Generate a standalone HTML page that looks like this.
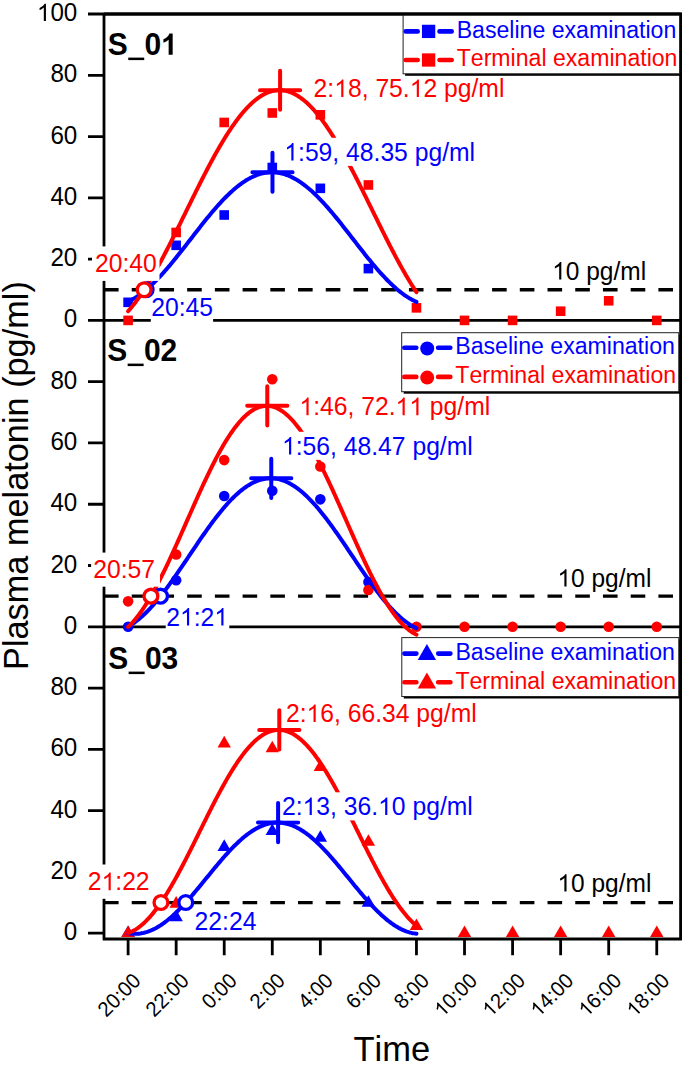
<!DOCTYPE html><html><head><meta charset="utf-8"><style>html,body{margin:0;padding:0;background:#fff;overflow:hidden}svg{display:block}text{font-family:"Liberation Sans",sans-serif;font-kerning:none;font-feature-settings:"kern" 0;white-space:pre}</style></head><body>
<svg width="685" height="1066" viewBox="0 0 685 1066" font-family="Liberation Sans">
<rect width="685" height="1066" fill="#fff"/>
<path d="M104.0,14.0 V939.0 M680.6,12.7 V940.3 M88,14.0 H680.6 M102.7,939.0 H681.9 M88,320.40 H680.6 M88,259.12 H104.0 M88,197.84 H104.0 M88,136.56 H104.0 M88,75.28 H104.0 M88,626.80 H680.6 M88,565.52 H104.0 M88,504.24 H104.0 M88,442.96 H104.0 M88,381.68 H104.0 M88,933.20 H104.0 M88,871.92 H104.0 M88,810.64 H104.0 M88,749.36 H104.0 M88,688.08 H104.0 M128.10,939.0 V955.2 M176.16,939.0 V955.2 M224.22,939.0 V955.2 M272.28,939.0 V955.2 M320.34,939.0 V955.2 M368.40,939.0 V955.2 M416.46,939.0 V955.2 M464.52,939.0 V955.2 M512.58,939.0 V955.2 M560.64,939.0 V955.2 M608.70,939.0 V955.2 M656.76,939.0 V955.2" stroke="#000" stroke-width="2.8" fill="none"/>
<line x1="104.0" y1="289.76" x2="679.1" y2="289.76" stroke="#000" stroke-width="3.3" stroke-dasharray="14.6 13.12"/>
<rect x="123.30" y="297.52" width="9.60" height="9.60" fill="#0000ff"/>
<rect x="171.36" y="240.53" width="9.60" height="9.60" fill="#0000ff"/>
<rect x="219.42" y="210.20" width="9.60" height="9.60" fill="#0000ff"/>
<rect x="267.48" y="162.71" width="9.60" height="9.60" fill="#0000ff"/>
<rect x="315.54" y="183.54" width="9.60" height="9.60" fill="#0000ff"/>
<rect x="363.60" y="263.82" width="9.60" height="9.60" fill="#0000ff"/>
<rect x="123.30" y="315.60" width="9.60" height="9.60" fill="#ff0000"/>
<rect x="171.36" y="227.66" width="9.60" height="9.60" fill="#ff0000"/>
<rect x="219.42" y="117.67" width="9.60" height="9.60" fill="#ff0000"/>
<rect x="267.48" y="108.17" width="9.60" height="9.60" fill="#ff0000"/>
<rect x="315.54" y="110.01" width="9.60" height="9.60" fill="#ff0000"/>
<rect x="363.60" y="180.17" width="9.60" height="9.60" fill="#ff0000"/>
<rect x="411.66" y="303.04" width="9.60" height="9.60" fill="#ff0000"/>
<rect x="459.72" y="315.60" width="9.60" height="9.60" fill="#ff0000"/>
<rect x="507.78" y="315.60" width="9.60" height="9.60" fill="#ff0000"/>
<rect x="555.84" y="306.41" width="9.60" height="9.60" fill="#ff0000"/>
<rect x="603.90" y="295.99" width="9.60" height="9.60" fill="#ff0000"/>
<rect x="651.96" y="315.60" width="9.60" height="9.60" fill="#ff0000"/>
<path d="M128.10,301.51 L129.30,300.95 L130.50,300.35 L131.70,299.73 L132.91,299.07 L134.11,298.38 L135.31,297.65 L136.51,296.90 L137.71,296.11 L138.91,295.29 L140.12,294.44 L141.32,293.56 L142.52,292.66 L143.72,291.72 L144.92,290.75 L146.12,289.76 L147.32,288.74 L148.53,287.69 L149.73,286.62 L150.93,285.52 L152.13,284.39 L153.33,283.24 L154.53,282.07 L155.73,280.87 L156.94,279.65 L158.14,278.41 L159.34,277.14 L160.54,275.86 L161.74,274.56 L162.94,273.23 L164.14,271.89 L165.35,270.53 L166.55,269.15 L167.75,267.76 L168.95,266.35 L170.15,264.93 L171.35,263.49 L172.56,262.04 L173.76,260.58 L174.96,259.10 L176.16,257.62 L177.36,256.12 L178.56,254.61 L179.76,253.10 L180.97,251.58 L182.17,250.05 L183.37,248.52 L184.57,246.98 L185.77,245.43 L186.97,243.89 L188.18,242.34 L189.38,240.79 L190.58,239.23 L191.78,237.68 L192.98,236.13 L194.18,234.58 L195.38,233.03 L196.59,231.48 L197.79,229.94 L198.99,228.41 L200.19,226.88 L201.39,225.35 L202.59,223.84 L203.79,222.33 L205.00,220.83 L206.20,219.34 L207.40,217.86 L208.60,216.40 L209.80,214.94 L211.00,213.50 L212.20,212.07 L213.41,210.66 L214.61,209.26 L215.81,207.88 L217.01,206.51 L218.21,205.16 L219.41,203.83 L220.62,202.52 L221.82,201.23 L223.02,199.96 L224.22,198.71 L225.42,197.49 L226.62,196.28 L227.82,195.10 L229.03,193.94 L230.23,192.81 L231.43,191.70 L232.63,190.62 L233.83,189.56 L235.03,188.53 L236.24,187.53 L237.44,186.55 L238.64,185.61 L239.84,184.69 L241.04,183.80 L242.24,182.94 L243.44,182.12 L244.65,181.32 L245.85,180.55 L247.05,179.82 L248.25,179.12 L249.45,178.45 L250.65,177.81 L251.85,177.21 L253.06,176.64 L254.26,176.10 L255.46,175.60 L256.66,175.13 L257.86,174.70 L259.06,174.30 L260.26,173.93 L261.47,173.61 L262.67,173.31 L263.87,173.06 L265.07,172.83 L266.27,172.65 L267.47,172.50 L268.68,172.38 L269.88,172.31 L271.08,172.26 L272.28,172.26 L273.48,172.29 L274.68,172.35 L275.88,172.46 L277.09,172.60 L278.29,172.77 L279.49,172.98 L280.69,173.23 L281.89,173.51 L283.09,173.83 L284.29,174.18 L285.50,174.57 L286.70,174.99 L287.90,175.45 L289.10,175.94 L290.30,176.46 L291.50,177.02 L292.71,177.61 L293.91,178.24 L295.11,178.90 L296.31,179.59 L297.51,180.32 L298.71,181.07 L299.91,181.86 L301.12,182.68 L302.32,183.53 L303.52,184.40 L304.72,185.31 L305.92,186.25 L307.12,187.21 L308.33,188.21 L309.53,189.23 L310.73,190.28 L311.93,191.35 L313.13,192.45 L314.33,193.58 L315.53,194.73 L316.74,195.90 L317.94,197.10 L319.14,198.32 L320.34,199.56 L321.54,200.82 L322.74,202.11 L323.94,203.41 L325.15,204.74 L326.35,206.08 L327.55,207.44 L328.75,208.81 L329.95,210.21 L331.15,211.62 L332.36,213.04 L333.56,214.48 L334.76,215.93 L335.96,217.39 L337.16,218.87 L338.36,220.35 L339.56,221.85 L340.77,223.35 L341.97,224.87 L343.17,226.39 L344.37,227.92 L345.57,229.45 L346.77,230.99 L347.97,232.53 L349.18,234.08 L350.38,235.63 L351.58,237.18 L352.78,238.74 L353.98,240.29 L355.18,241.84 L356.38,243.39 L357.59,244.94 L358.79,246.48 L359.99,248.02 L361.19,249.56 L362.39,251.09 L363.59,252.61 L364.80,254.13 L366.00,255.64 L367.20,257.14 L368.40,258.63 L369.60,260.11 L370.80,261.57 L372.00,263.03 L373.21,264.47 L374.41,265.90 L375.61,267.31 L376.81,268.71 L378.01,270.09 L379.21,271.46 L380.41,272.80 L381.62,274.13 L382.82,275.44 L384.02,276.73 L385.22,278.00 L386.42,279.25 L387.62,280.48 L388.83,281.69 L390.03,282.87 L391.23,284.03 L392.43,285.16 L393.63,286.27 L394.83,287.35 L396.03,288.41 L397.24,289.44 L398.44,290.44 L399.64,291.41 L400.84,292.36 L402.04,293.28 L403.24,294.17 L404.45,295.02 L405.65,295.85 L406.85,296.65 L408.05,297.41 L409.25,298.15 L410.45,298.85 L411.65,299.52 L412.86,300.16 L414.06,300.76 L415.26,301.33 L416.46,301.87" fill="none" stroke="#0000ff" stroke-width="4" stroke-linecap="round" stroke-linejoin="round"/>
<path d="M128.10,311.28 L129.30,309.90 L130.50,308.48 L131.70,307.03 L132.91,305.53 L134.11,303.99 L135.31,302.42 L136.51,300.81 L137.71,299.16 L138.91,297.47 L140.12,295.75 L141.32,294.00 L142.52,292.21 L143.72,290.39 L144.92,288.53 L146.12,286.64 L147.32,284.73 L148.53,282.78 L149.73,280.80 L150.93,278.79 L152.13,276.76 L153.33,274.70 L154.53,272.61 L155.73,270.49 L156.94,268.36 L158.14,266.19 L159.34,264.01 L160.54,261.80 L161.74,259.58 L162.94,257.33 L164.14,255.06 L165.35,252.78 L166.55,250.48 L167.75,248.16 L168.95,245.83 L170.15,243.48 L171.35,241.12 L172.56,238.75 L173.76,236.36 L174.96,233.97 L176.16,231.56 L177.36,229.15 L178.56,226.73 L179.76,224.30 L180.97,221.87 L182.17,219.43 L183.37,216.99 L184.57,214.55 L185.77,212.10 L186.97,209.66 L188.18,207.21 L189.38,204.77 L190.58,202.33 L191.78,199.89 L192.98,197.46 L194.18,195.03 L195.38,192.61 L196.59,190.20 L197.79,187.79 L198.99,185.40 L200.19,183.01 L201.39,180.64 L202.59,178.28 L203.79,175.93 L205.00,173.60 L206.20,171.28 L207.40,168.98 L208.60,166.69 L209.80,164.43 L211.00,162.18 L212.20,159.95 L213.41,157.75 L214.61,155.56 L215.81,153.40 L217.01,151.26 L218.21,149.15 L219.41,147.06 L220.62,145.00 L221.82,142.96 L223.02,140.96 L224.22,138.98 L225.42,137.03 L226.62,135.11 L227.82,133.22 L229.03,131.37 L230.23,129.55 L231.43,127.76 L232.63,126.00 L233.83,124.28 L235.03,122.60 L236.24,120.95 L237.44,119.34 L238.64,117.76 L239.84,116.23 L241.04,114.73 L242.24,113.27 L243.44,111.86 L244.65,110.48 L245.85,109.14 L247.05,107.85 L248.25,106.60 L249.45,105.39 L250.65,104.23 L251.85,103.11 L253.06,102.03 L254.26,101.00 L255.46,100.01 L256.66,99.07 L257.86,98.17 L259.06,97.32 L260.26,96.52 L261.47,95.77 L262.67,95.06 L263.87,94.40 L265.07,93.78 L266.27,93.22 L267.47,92.70 L268.68,92.23 L269.88,91.81 L271.08,91.44 L272.28,91.12 L273.48,90.85 L274.68,90.63 L275.88,90.46 L277.09,90.33 L278.29,90.26 L279.49,90.23 L280.69,90.26 L281.89,90.33 L283.09,90.46 L284.29,90.63 L285.50,90.85 L286.70,91.12 L287.90,91.44 L289.10,91.81 L290.30,92.23 L291.50,92.70 L292.71,93.22 L293.91,93.78 L295.11,94.40 L296.31,95.06 L297.51,95.77 L298.71,96.52 L299.91,97.32 L301.12,98.17 L302.32,99.07 L303.52,100.01 L304.72,101.00 L305.92,102.03 L307.12,103.11 L308.33,104.23 L309.53,105.39 L310.73,106.60 L311.93,107.85 L313.13,109.14 L314.33,110.48 L315.53,111.86 L316.74,113.27 L317.94,114.73 L319.14,116.23 L320.34,117.76 L321.54,119.34 L322.74,120.95 L323.94,122.60 L325.15,124.28 L326.35,126.00 L327.55,127.76 L328.75,129.55 L329.95,131.37 L331.15,133.22 L332.36,135.11 L333.56,137.03 L334.76,138.98 L335.96,140.96 L337.16,142.96 L338.36,145.00 L339.56,147.06 L340.77,149.15 L341.97,151.26 L343.17,153.40 L344.37,155.56 L345.57,157.75 L346.77,159.95 L347.97,162.18 L349.18,164.43 L350.38,166.69 L351.58,168.98 L352.78,171.28 L353.98,173.60 L355.18,175.93 L356.38,178.28 L357.59,180.64 L358.79,183.01 L359.99,185.40 L361.19,187.79 L362.39,190.20 L363.59,192.61 L364.80,195.03 L366.00,197.46 L367.20,199.89 L368.40,202.33 L369.60,204.77 L370.80,207.21 L372.00,209.66 L373.21,212.10 L374.41,214.55 L375.61,216.99 L376.81,219.43 L378.01,221.87 L379.21,224.30 L380.41,226.73 L381.62,229.15 L382.82,231.56 L384.02,233.97 L385.22,236.36 L386.42,238.75 L387.62,241.12 L388.83,243.48 L390.03,245.83 L391.23,248.16 L392.43,250.48 L393.63,252.78 L394.83,255.06 L396.03,257.33 L397.24,259.58 L398.44,261.80 L399.64,264.01 L400.84,266.19 L402.04,268.36 L403.24,270.49 L404.45,272.61 L405.65,274.70 L406.85,276.76 L408.05,278.79 L409.25,280.80 L410.45,282.78 L411.65,284.73 L412.86,286.64 L414.06,288.53 L415.26,290.39 L416.46,292.21" fill="none" stroke="#ff0000" stroke-width="4" stroke-linecap="round" stroke-linejoin="round"/>
<path d="M252.37,172.26 H292.57 M272.47,152.66 V191.86" stroke="#0000ff" stroke-width="4.0" stroke-linecap="round" fill="none"/>
<path d="M259.99,90.23 H300.19 M280.09,70.63 V109.83" stroke="#ff0000" stroke-width="4.0" stroke-linecap="round" fill="none"/>
<line x1="104.0" y1="596.16" x2="679.1" y2="596.16" stroke="#000" stroke-width="3.3" stroke-dasharray="14.6 13.12"/>
<circle cx="128.10" cy="626.80" r="5.30" fill="#0000ff"/>
<circle cx="176.16" cy="580.23" r="5.30" fill="#0000ff"/>
<circle cx="224.22" cy="495.97" r="5.30" fill="#0000ff"/>
<circle cx="272.28" cy="490.76" r="5.30" fill="#0000ff"/>
<circle cx="320.34" cy="499.34" r="5.30" fill="#0000ff"/>
<circle cx="368.40" cy="582.07" r="5.30" fill="#0000ff"/>
<circle cx="128.10" cy="601.37" r="5.30" fill="#ff0000"/>
<circle cx="176.16" cy="554.49" r="5.30" fill="#ff0000"/>
<circle cx="224.22" cy="460.12" r="5.30" fill="#ff0000"/>
<circle cx="272.28" cy="379.23" r="5.30" fill="#ff0000"/>
<circle cx="320.34" cy="466.55" r="5.30" fill="#ff0000"/>
<circle cx="368.40" cy="590.03" r="5.30" fill="#ff0000"/>
<circle cx="416.46" cy="626.80" r="5.30" fill="#ff0000"/>
<circle cx="464.52" cy="626.80" r="5.30" fill="#ff0000"/>
<circle cx="512.58" cy="626.80" r="5.30" fill="#ff0000"/>
<circle cx="560.64" cy="626.80" r="5.30" fill="#ff0000"/>
<circle cx="608.70" cy="626.80" r="5.30" fill="#ff0000"/>
<circle cx="656.76" cy="626.80" r="5.30" fill="#ff0000"/>
<path d="M128.10,626.57 L129.30,625.89 L130.50,625.16 L131.70,624.40 L132.91,623.61 L134.11,622.77 L135.31,621.90 L136.51,621.00 L137.71,620.05 L138.91,619.08 L140.12,618.06 L141.32,617.02 L142.52,615.94 L143.72,614.82 L144.92,613.68 L146.12,612.50 L147.32,611.30 L148.53,610.06 L149.73,608.79 L150.93,607.49 L152.13,606.17 L153.33,604.81 L154.53,603.43 L155.73,602.03 L156.94,600.60 L158.14,599.14 L159.34,597.66 L160.54,596.16 L161.74,594.64 L162.94,593.09 L164.14,591.52 L165.35,589.94 L166.55,588.33 L167.75,586.71 L168.95,585.07 L170.15,583.41 L171.35,581.74 L172.56,580.05 L173.76,578.35 L174.96,576.64 L176.16,574.92 L177.36,573.18 L178.56,571.44 L179.76,569.69 L180.97,567.93 L182.17,566.16 L183.37,564.38 L184.57,562.61 L185.77,560.82 L186.97,559.04 L188.18,557.25 L189.38,555.46 L190.58,553.67 L191.78,551.88 L192.98,550.10 L194.18,548.31 L195.38,546.53 L196.59,544.76 L197.79,542.99 L198.99,541.22 L200.19,539.47 L201.39,537.72 L202.59,535.98 L203.79,534.26 L205.00,532.54 L206.20,530.84 L207.40,529.15 L208.60,527.47 L209.80,525.81 L211.00,524.16 L212.20,522.53 L213.41,520.92 L214.61,519.33 L215.81,517.76 L217.01,516.21 L218.21,514.67 L219.41,513.16 L220.62,511.68 L221.82,510.21 L223.02,508.77 L224.22,507.36 L225.42,505.97 L226.62,504.61 L227.82,503.28 L229.03,501.97 L230.23,500.69 L231.43,499.45 L232.63,498.23 L233.83,497.04 L235.03,495.89 L236.24,494.76 L237.44,493.67 L238.64,492.62 L239.84,491.59 L241.04,490.60 L242.24,489.65 L243.44,488.73 L244.65,487.85 L245.85,487.00 L247.05,486.20 L248.25,485.42 L249.45,484.69 L250.65,483.99 L251.85,483.34 L253.06,482.72 L254.26,482.14 L255.46,481.60 L256.66,481.10 L257.86,480.64 L259.06,480.22 L260.26,479.84 L261.47,479.51 L262.67,479.21 L263.87,478.95 L265.07,478.74 L266.27,478.57 L267.47,478.44 L268.68,478.35 L269.88,478.30 L271.08,478.29 L272.28,478.33 L273.48,478.40 L274.68,478.52 L275.88,478.68 L277.09,478.88 L278.29,479.12 L279.49,479.41 L280.69,479.73 L281.89,480.10 L283.09,480.50 L284.29,480.95 L285.50,481.44 L286.70,481.96 L287.90,482.53 L289.10,483.14 L290.30,483.78 L291.50,484.46 L292.71,485.18 L293.91,485.94 L295.11,486.74 L296.31,487.58 L297.51,488.45 L298.71,489.35 L299.91,490.30 L301.12,491.27 L302.32,492.29 L303.52,493.33 L304.72,494.41 L305.92,495.52 L307.12,496.67 L308.33,497.85 L309.53,499.05 L310.73,500.29 L311.93,501.56 L313.13,502.86 L314.33,504.18 L315.53,505.53 L316.74,506.91 L317.94,508.32 L319.14,509.75 L320.34,511.21 L321.54,512.69 L322.74,514.19 L323.94,515.71 L325.15,517.26 L326.35,518.83 L327.55,520.41 L328.75,522.02 L329.95,523.64 L331.15,525.28 L332.36,526.94 L333.56,528.61 L334.76,530.29 L335.96,531.99 L337.16,533.71 L338.36,535.43 L339.56,537.16 L340.77,538.91 L341.97,540.66 L343.17,542.42 L344.37,544.19 L345.57,545.96 L346.77,547.74 L347.97,549.53 L349.18,551.31 L350.38,553.10 L351.58,554.89 L352.78,556.68 L353.98,558.47 L355.18,560.25 L356.38,562.04 L357.59,563.82 L358.79,565.59 L359.99,567.36 L361.19,569.12 L362.39,570.88 L363.59,572.63 L364.80,574.36 L366.00,576.09 L367.20,577.81 L368.40,579.51 L369.60,581.20 L370.80,582.88 L372.00,584.54 L373.21,586.18 L374.41,587.81 L375.61,589.42 L376.81,591.02 L378.01,592.59 L379.21,594.14 L380.41,595.67 L381.62,597.18 L382.82,598.67 L384.02,600.13 L385.22,601.57 L386.42,602.99 L387.62,604.38 L388.83,605.74 L390.03,607.07 L391.23,608.38 L392.43,609.65 L393.63,610.90 L394.83,612.12 L396.03,613.31 L397.24,614.46 L398.44,615.58 L399.64,616.67 L400.84,617.73 L402.04,618.76 L403.24,619.74 L404.45,620.70 L405.65,621.62 L406.85,622.50 L408.05,623.34 L409.25,624.15 L410.45,624.92 L411.65,625.66 L412.86,626.35 L414.06,627.01 L415.26,627.63 L416.46,628.21" fill="none" stroke="#0000ff" stroke-width="4" stroke-linecap="round" stroke-linejoin="round"/>
<path d="M128.10,626.92 L129.30,625.78 L130.50,624.59 L131.70,623.34 L132.91,622.03 L134.11,620.67 L135.31,619.25 L136.51,617.78 L137.71,616.25 L138.91,614.67 L140.12,613.04 L141.32,611.35 L142.52,609.62 L143.72,607.83 L144.92,606.00 L146.12,604.13 L147.32,602.20 L148.53,600.23 L149.73,598.22 L150.93,596.16 L152.13,594.06 L153.33,591.92 L154.53,589.74 L155.73,587.53 L156.94,585.27 L158.14,582.98 L159.34,580.66 L160.54,578.30 L161.74,575.92 L162.94,573.50 L164.14,571.05 L165.35,568.57 L166.55,566.07 L167.75,563.54 L168.95,560.99 L170.15,558.42 L171.35,555.83 L172.56,553.21 L173.76,550.58 L174.96,547.94 L176.16,545.28 L177.36,542.60 L178.56,539.91 L179.76,537.22 L180.97,534.51 L182.17,531.80 L183.37,529.08 L184.57,526.35 L185.77,523.63 L186.97,520.90 L188.18,518.17 L189.38,515.45 L190.58,512.73 L191.78,510.01 L192.98,507.30 L194.18,504.59 L195.38,501.90 L196.59,499.22 L197.79,496.54 L198.99,493.89 L200.19,491.25 L201.39,488.62 L202.59,486.01 L203.79,483.43 L205.00,480.86 L206.20,478.32 L207.40,475.80 L208.60,473.31 L209.80,470.84 L211.00,468.40 L212.20,465.99 L213.41,463.61 L214.61,461.27 L215.81,458.95 L217.01,456.67 L218.21,454.43 L219.41,452.23 L220.62,450.06 L221.82,447.94 L223.02,445.85 L224.22,443.81 L225.42,441.81 L226.62,439.85 L227.82,437.94 L229.03,436.08 L230.23,434.26 L231.43,432.50 L232.63,430.78 L233.83,429.11 L235.03,427.49 L236.24,425.93 L237.44,424.42 L238.64,422.97 L239.84,421.56 L241.04,420.22 L242.24,418.93 L243.44,417.70 L244.65,416.52 L245.85,415.41 L247.05,414.35 L248.25,413.35 L249.45,412.42 L250.65,411.54 L251.85,410.73 L253.06,409.97 L254.26,409.28 L255.46,408.65 L256.66,408.09 L257.86,407.59 L259.06,407.15 L260.26,406.77 L261.47,406.46 L262.67,406.21 L263.87,406.03 L265.07,405.91 L266.27,405.86 L267.47,405.87 L268.68,405.94 L269.88,406.08 L271.08,406.29 L272.28,406.55 L273.48,406.89 L274.68,407.28 L275.88,407.74 L277.09,408.26 L278.29,408.85 L279.49,409.50 L280.69,410.21 L281.89,410.98 L283.09,411.81 L284.29,412.71 L285.50,413.67 L286.70,414.68 L287.90,415.76 L289.10,416.89 L290.30,418.09 L291.50,419.34 L292.71,420.64 L293.91,422.01 L295.11,423.43 L296.31,424.90 L297.51,426.43 L298.71,428.01 L299.91,429.64 L301.12,431.32 L302.32,433.06 L303.52,434.84 L304.72,436.67 L305.92,438.55 L307.12,440.47 L308.33,442.44 L309.53,444.46 L310.73,446.51 L311.93,448.61 L313.13,450.75 L314.33,452.93 L315.53,455.15 L316.74,457.40 L317.94,459.69 L319.14,462.01 L320.34,464.37 L321.54,466.76 L322.74,469.18 L323.94,471.62 L325.15,474.10 L326.35,476.60 L327.55,479.13 L328.75,481.68 L329.95,484.25 L331.15,486.85 L332.36,489.46 L333.56,492.09 L334.76,494.74 L335.96,497.40 L337.16,500.07 L338.36,502.76 L339.56,505.46 L340.77,508.16 L341.97,510.88 L343.17,513.60 L344.37,516.32 L345.57,519.05 L346.77,521.77 L347.97,524.50 L349.18,527.23 L350.38,529.95 L351.58,532.67 L352.78,535.38 L353.98,538.08 L355.18,540.77 L356.38,543.46 L357.59,546.13 L358.79,548.79 L359.99,551.43 L361.19,554.05 L362.39,556.66 L363.59,559.25 L364.80,561.81 L366.00,564.36 L367.20,566.87 L368.40,569.37 L369.60,571.84 L370.80,574.27 L372.00,576.68 L373.21,579.06 L374.41,581.41 L375.61,583.72 L376.81,586.00 L378.01,588.24 L379.21,590.45 L380.41,592.61 L381.62,594.74 L382.82,596.82 L384.02,598.87 L385.22,600.87 L386.42,602.82 L387.62,604.73 L388.83,606.59 L390.03,608.41 L391.23,610.18 L392.43,611.90 L393.63,613.56 L394.83,615.18 L396.03,616.74 L397.24,618.25 L398.44,619.71 L399.64,621.11 L400.84,622.46 L402.04,623.74 L403.24,624.98 L404.45,626.15 L405.65,627.27 L406.85,628.32 L408.05,629.32 L409.25,630.26 L410.45,631.13 L411.65,631.95 L412.86,632.70 L414.06,633.39 L415.26,634.02 L416.46,634.59" fill="none" stroke="#ff0000" stroke-width="4" stroke-linecap="round" stroke-linejoin="round"/>
<path d="M251.17,478.29 H291.37 M271.27,458.69 V497.89" stroke="#0000ff" stroke-width="4.0" stroke-linecap="round" fill="none"/>
<path d="M247.18,405.85 H287.38 M267.28,386.25 V425.45" stroke="#ff0000" stroke-width="4.0" stroke-linecap="round" fill="none"/>
<line x1="104.0" y1="902.56" x2="679.1" y2="902.56" stroke="#000" stroke-width="3.3" stroke-dasharray="14.6 13.12"/>
<path d="M128.10,925.46 L134.80,937.07 L121.40,937.07 Z" fill="#0000ff"/>
<path d="M176.16,909.53 L182.86,921.14 L169.46,921.14 Z" fill="#0000ff"/>
<path d="M224.22,839.37 L230.92,850.97 L217.52,850.97 Z" fill="#0000ff"/>
<path d="M272.28,823.43 L278.98,835.04 L265.58,835.04 Z" fill="#0000ff"/>
<path d="M320.34,830.17 L327.04,841.78 L313.64,841.78 Z" fill="#0000ff"/>
<path d="M368.40,895.13 L375.10,906.73 L361.70,906.73 Z" fill="#0000ff"/>
<path d="M128.10,925.46 L134.80,937.07 L121.40,937.07 Z" fill="#ff0000"/>
<path d="M176.16,896.05 L182.86,907.65 L169.46,907.65 Z" fill="#ff0000"/>
<path d="M224.22,735.80 L230.92,747.41 L217.52,747.41 Z" fill="#ff0000"/>
<path d="M272.28,740.70 L278.98,752.31 L265.58,752.31 Z" fill="#ff0000"/>
<path d="M320.34,759.39 L327.04,771.00 L313.64,771.00 Z" fill="#ff0000"/>
<path d="M368.40,834.16 L375.10,845.76 L361.70,845.76 Z" fill="#ff0000"/>
<path d="M416.46,918.42 L423.16,930.02 L409.76,930.02 Z" fill="#ff0000"/>
<path d="M464.52,925.46 L471.22,937.07 L457.82,937.07 Z" fill="#ff0000"/>
<path d="M512.58,925.46 L519.28,937.07 L505.88,937.07 Z" fill="#ff0000"/>
<path d="M560.64,925.46 L567.34,937.07 L553.94,937.07 Z" fill="#ff0000"/>
<path d="M608.70,925.46 L615.40,937.07 L602.00,937.07 Z" fill="#ff0000"/>
<path d="M656.76,925.46 L663.46,937.07 L650.06,937.07 Z" fill="#ff0000"/>
<path d="M128.10,933.17 L129.30,933.38 L130.50,933.55 L131.70,933.68 L132.91,933.77 L134.11,933.82 L135.31,933.83 L136.51,933.81 L137.71,933.74 L138.91,933.64 L140.12,933.50 L141.32,933.31 L142.52,933.09 L143.72,932.84 L144.92,932.54 L146.12,932.20 L147.32,931.83 L148.53,931.42 L149.73,930.97 L150.93,930.48 L152.13,929.96 L153.33,929.40 L154.53,928.81 L155.73,928.18 L156.94,927.51 L158.14,926.81 L159.34,926.08 L160.54,925.31 L161.74,924.51 L162.94,923.68 L164.14,922.81 L165.35,921.91 L166.55,920.99 L167.75,920.03 L168.95,919.04 L170.15,918.02 L171.35,916.98 L172.56,915.91 L173.76,914.81 L174.96,913.69 L176.16,912.54 L177.36,911.37 L178.56,910.17 L179.76,908.96 L180.97,907.72 L182.17,906.46 L183.37,905.18 L184.57,903.88 L185.77,902.56 L186.97,901.23 L188.18,899.88 L189.38,898.51 L190.58,897.13 L191.78,895.74 L192.98,894.33 L194.18,892.91 L195.38,891.49 L196.59,890.05 L197.79,888.61 L198.99,887.15 L200.19,885.70 L201.39,884.23 L202.59,882.76 L203.79,881.29 L205.00,879.82 L206.20,878.34 L207.40,876.87 L208.60,875.40 L209.80,873.93 L211.00,872.46 L212.20,870.99 L213.41,869.53 L214.61,868.08 L215.81,866.63 L217.01,865.19 L218.21,863.77 L219.41,862.35 L220.62,860.94 L221.82,859.54 L223.02,858.16 L224.22,856.79 L225.42,855.44 L226.62,854.10 L227.82,852.78 L229.03,851.48 L230.23,850.20 L231.43,848.93 L232.63,847.69 L233.83,846.47 L235.03,845.27 L236.24,844.09 L237.44,842.94 L238.64,841.81 L239.84,840.71 L241.04,839.63 L242.24,838.58 L243.44,837.56 L244.65,836.57 L245.85,835.61 L247.05,834.68 L248.25,833.77 L249.45,832.90 L250.65,832.06 L251.85,831.26 L253.06,830.48 L254.26,829.74 L255.46,829.04 L256.66,828.36 L257.86,827.73 L259.06,827.13 L260.26,826.56 L261.47,826.03 L262.67,825.54 L263.87,825.08 L265.07,824.67 L266.27,824.29 L267.47,823.94 L268.68,823.64 L269.88,823.37 L271.08,823.15 L272.28,822.96 L273.48,822.81 L274.68,822.70 L275.88,822.62 L277.09,822.59 L278.29,822.60 L279.49,822.64 L280.69,822.73 L281.89,822.85 L283.09,823.01 L284.29,823.21 L285.50,823.45 L286.70,823.73 L287.90,824.05 L289.10,824.40 L290.30,824.80 L291.50,825.23 L292.71,825.69 L293.91,826.20 L295.11,826.74 L296.31,827.31 L297.51,827.93 L298.71,828.58 L299.91,829.26 L301.12,829.98 L302.32,830.73 L303.52,831.51 L304.72,832.33 L305.92,833.18 L307.12,834.06 L308.33,834.97 L309.53,835.91 L310.73,836.89 L311.93,837.89 L313.13,838.92 L314.33,839.97 L315.53,841.06 L316.74,842.17 L317.94,843.31 L319.14,844.47 L320.34,845.65 L321.54,846.86 L322.74,848.09 L323.94,849.34 L325.15,850.61 L326.35,851.90 L327.55,853.20 L328.75,854.53 L329.95,855.87 L331.15,857.23 L332.36,858.60 L333.56,859.99 L334.76,861.39 L335.96,862.80 L337.16,864.22 L338.36,865.65 L339.56,867.10 L340.77,868.54 L341.97,870.00 L343.17,871.46 L344.37,872.93 L345.57,874.40 L346.77,875.87 L347.97,877.34 L349.18,878.82 L350.38,880.29 L351.58,881.76 L352.78,883.23 L353.98,884.70 L355.18,886.16 L356.38,887.62 L357.59,889.07 L358.79,890.51 L359.99,891.94 L361.19,893.37 L362.39,894.78 L363.59,896.18 L364.80,897.57 L366.00,898.95 L367.20,900.31 L368.40,901.65 L369.60,902.98 L370.80,904.29 L372.00,905.59 L373.21,906.86 L374.41,908.12 L375.61,909.35 L376.81,910.56 L378.01,911.75 L379.21,912.91 L380.41,914.05 L381.62,915.17 L382.82,916.26 L384.02,917.32 L385.22,918.35 L386.42,919.36 L387.62,920.34 L388.83,921.29 L390.03,922.20 L391.23,923.09 L392.43,923.95 L393.63,924.77 L394.83,925.56 L396.03,926.32 L397.24,927.04 L398.44,927.73 L399.64,928.38 L400.84,929.00 L402.04,929.58 L403.24,930.13 L404.45,930.64 L405.65,931.12 L406.85,931.55 L408.05,931.95 L409.25,932.31 L410.45,932.64 L411.65,932.92 L412.86,933.17 L414.06,933.38 L415.26,933.55 L416.46,933.68" fill="none" stroke="#0000ff" stroke-width="4" stroke-linecap="round" stroke-linejoin="round"/>
<path d="M128.10,932.94 L129.30,932.52 L130.50,932.05 L131.70,931.53 L132.91,930.95 L134.11,930.31 L135.31,929.61 L136.51,928.87 L137.71,928.06 L138.91,927.20 L140.12,926.29 L141.32,925.33 L142.52,924.31 L143.72,923.24 L144.92,922.11 L146.12,920.94 L147.32,919.72 L148.53,918.45 L149.73,917.12 L150.93,915.75 L152.13,914.34 L153.33,912.87 L154.53,911.36 L155.73,909.81 L156.94,908.21 L158.14,906.57 L159.34,904.88 L160.54,903.16 L161.74,901.39 L162.94,899.59 L164.14,897.74 L165.35,895.86 L166.55,893.95 L167.75,891.99 L168.95,890.01 L170.15,887.99 L171.35,885.94 L172.56,883.86 L173.76,881.75 L174.96,879.61 L176.16,877.45 L177.36,875.26 L178.56,873.04 L179.76,870.80 L180.97,868.54 L182.17,866.26 L183.37,863.96 L184.57,861.64 L185.77,859.31 L186.97,856.96 L188.18,854.59 L189.38,852.22 L190.58,849.83 L191.78,847.43 L192.98,845.02 L194.18,842.61 L195.38,840.19 L196.59,837.76 L197.79,835.33 L198.99,832.90 L200.19,830.47 L201.39,828.04 L202.59,825.61 L203.79,823.19 L205.00,820.77 L206.20,818.36 L207.40,815.95 L208.60,813.56 L209.80,811.17 L211.00,808.80 L212.20,806.44 L213.41,804.09 L214.61,801.76 L215.81,799.45 L217.01,797.16 L218.21,794.88 L219.41,792.63 L220.62,790.40 L221.82,788.19 L223.02,786.01 L224.22,783.85 L225.42,781.72 L226.62,779.62 L227.82,777.55 L229.03,775.51 L230.23,773.50 L231.43,771.53 L232.63,769.59 L233.83,767.68 L235.03,765.81 L236.24,763.98 L237.44,762.19 L238.64,760.44 L239.84,758.73 L241.04,757.05 L242.24,755.43 L243.44,753.84 L244.65,752.30 L245.85,750.81 L247.05,749.36 L248.25,747.95 L249.45,746.60 L250.65,745.29 L251.85,744.03 L253.06,742.83 L254.26,741.67 L255.46,740.56 L256.66,739.51 L257.86,738.51 L259.06,737.56 L260.26,736.67 L261.47,735.83 L262.67,735.04 L263.87,734.31 L265.07,733.63 L266.27,733.01 L267.47,732.45 L268.68,731.94 L269.88,731.49 L271.08,731.09 L272.28,730.76 L273.48,730.48 L274.68,730.26 L275.88,730.09 L277.09,729.99 L278.29,729.94 L279.49,729.95 L280.69,730.01 L281.89,730.14 L283.09,730.32 L284.29,730.56 L285.50,730.86 L286.70,731.21 L287.90,731.63 L289.10,732.10 L290.30,732.62 L291.50,733.20 L292.71,733.84 L293.91,734.54 L295.11,735.28 L296.31,736.09 L297.51,736.95 L298.71,737.86 L299.91,738.82 L301.12,739.84 L302.32,740.91 L303.52,742.04 L304.72,743.21 L305.92,744.43 L307.12,745.70 L308.33,747.03 L309.53,748.40 L310.73,749.81 L311.93,751.28 L313.13,752.79 L314.33,754.34 L315.53,755.94 L316.74,757.58 L317.94,759.27 L319.14,760.99 L320.34,762.76 L321.54,764.56 L322.74,766.41 L323.94,768.29 L325.15,770.20 L326.35,772.16 L327.55,774.14 L328.75,776.16 L329.95,778.21 L331.15,780.29 L332.36,782.40 L333.56,784.54 L334.76,786.70 L335.96,788.89 L337.16,791.11 L338.36,793.35 L339.56,795.61 L340.77,797.89 L341.97,800.19 L343.17,802.51 L344.37,804.84 L345.57,807.19 L346.77,809.56 L347.97,811.93 L349.18,814.32 L350.38,816.72 L351.58,819.13 L352.78,821.54 L353.98,823.96 L355.18,826.39 L356.38,828.82 L357.59,831.25 L358.79,833.68 L359.99,836.11 L361.19,838.54 L362.39,840.96 L363.59,843.38 L364.80,845.79 L366.00,848.20 L367.20,850.59 L368.40,852.98 L369.60,855.35 L370.80,857.71 L372.00,860.06 L373.21,862.39 L374.41,864.70 L375.61,866.99 L376.81,869.27 L378.01,871.52 L379.21,873.75 L380.41,875.96 L381.62,878.14 L382.82,880.30 L384.02,882.43 L385.22,884.53 L386.42,886.60 L387.62,888.64 L388.83,890.65 L390.03,892.62 L391.23,894.56 L392.43,896.47 L393.63,898.34 L394.83,900.17 L396.03,901.96 L397.24,903.71 L398.44,905.42 L399.64,907.10 L400.84,908.72 L402.04,910.31 L403.24,911.85 L404.45,913.34 L405.65,914.79 L406.85,916.20 L408.05,917.55 L409.25,918.86 L410.45,920.12 L411.65,921.32 L412.86,922.48 L414.06,923.59 L415.26,924.64 L416.46,925.64" fill="none" stroke="#ff0000" stroke-width="4" stroke-linecap="round" stroke-linejoin="round"/>
<path d="M257.99,822.59 H298.19 M278.09,802.99 V842.19" stroke="#0000ff" stroke-width="4.0" stroke-linecap="round" fill="none"/>
<path d="M259.20,729.93 H299.40 M279.30,710.33 V749.53" stroke="#ff0000" stroke-width="4.0" stroke-linecap="round" fill="none"/>
<g transform="translate(77.30,327.40) scale(1,1.035)" font-size="24.2" fill="#000"><text x="-13.46">0</text></g>
<g transform="translate(77.30,266.12) scale(1,1.035)" font-size="24.2" fill="#000"><text x="-26.92">20</text></g>
<g transform="translate(77.30,204.84) scale(1,1.035)" font-size="24.2" fill="#000"><text x="-26.92">40</text></g>
<g transform="translate(77.30,143.56) scale(1,1.035)" font-size="24.2" fill="#000"><text x="-26.92">60</text></g>
<g transform="translate(77.30,82.28) scale(1,1.035)" font-size="24.2" fill="#000"><text x="-26.92">80</text></g>
<g transform="translate(77.30,21.00) scale(1,1.035)" font-size="24.2" fill="#000"><path transform="translate(-40.38,0) scale(0.01182,-0.01182)" d="M763,0L583,0L583,1099C540,1060 483,1020 413,981C343,942 280,912 223,891L223,1058C325,1103 413,1158 488,1222C563,1286 616,1348 647,1411L763,1411Z"/><text x="-26.92">00</text></g>
<g transform="translate(77.30,633.80) scale(1,1.035)" font-size="24.2" fill="#000"><text x="-13.46">0</text></g>
<g transform="translate(77.30,572.52) scale(1,1.035)" font-size="24.2" fill="#000"><text x="-26.92">20</text></g>
<g transform="translate(77.30,511.24) scale(1,1.035)" font-size="24.2" fill="#000"><text x="-26.92">40</text></g>
<g transform="translate(77.30,449.96) scale(1,1.035)" font-size="24.2" fill="#000"><text x="-26.92">60</text></g>
<g transform="translate(77.30,388.68) scale(1,1.035)" font-size="24.2" fill="#000"><text x="-26.92">80</text></g>
<g transform="translate(77.30,940.20) scale(1,1.035)" font-size="24.2" fill="#000"><text x="-13.46">0</text></g>
<g transform="translate(77.30,878.92) scale(1,1.035)" font-size="24.2" fill="#000"><text x="-26.92">20</text></g>
<g transform="translate(77.30,817.64) scale(1,1.035)" font-size="24.2" fill="#000"><text x="-26.92">40</text></g>
<g transform="translate(77.30,756.36) scale(1,1.035)" font-size="24.2" fill="#000"><text x="-26.92">60</text></g>
<g transform="translate(77.30,695.08) scale(1,1.035)" font-size="24.2" fill="#000"><text x="-26.92">80</text></g>
<g transform="translate(142.10,982.00) rotate(-45) scale(1,1.035)" font-size="20.3" fill="#000"><text x="-50.80">20:00</text></g>
<g transform="translate(190.16,982.00) rotate(-45) scale(1,1.035)" font-size="20.3" fill="#000"><text x="-50.80">22:00</text></g>
<g transform="translate(238.22,982.00) rotate(-45) scale(1,1.035)" font-size="20.3" fill="#000"><text x="-39.51">0:00</text></g>
<g transform="translate(286.28,982.00) rotate(-45) scale(1,1.035)" font-size="20.3" fill="#000"><text x="-39.51">2:00</text></g>
<g transform="translate(334.34,982.00) rotate(-45) scale(1,1.035)" font-size="20.3" fill="#000"><text x="-39.51">4:00</text></g>
<g transform="translate(382.40,982.00) rotate(-45) scale(1,1.035)" font-size="20.3" fill="#000"><text x="-39.51">6:00</text></g>
<g transform="translate(430.46,982.00) rotate(-45) scale(1,1.035)" font-size="20.3" fill="#000"><text x="-39.51">8:00</text></g>
<g transform="translate(478.52,982.00) rotate(-45) scale(1,1.035)" font-size="20.3" fill="#000"><path transform="translate(-50.80,0) scale(0.00991,-0.00991)" d="M763,0L583,0L583,1099C540,1060 483,1020 413,981C343,942 280,912 223,891L223,1058C325,1103 413,1158 488,1222C563,1286 616,1348 647,1411L763,1411Z"/><text x="-39.51">0:00</text></g>
<g transform="translate(526.58,982.00) rotate(-45) scale(1,1.035)" font-size="20.3" fill="#000"><path transform="translate(-50.80,0) scale(0.00991,-0.00991)" d="M763,0L583,0L583,1099C540,1060 483,1020 413,981C343,942 280,912 223,891L223,1058C325,1103 413,1158 488,1222C563,1286 616,1348 647,1411L763,1411Z"/><text x="-39.51">2:00</text></g>
<g transform="translate(574.64,982.00) rotate(-45) scale(1,1.035)" font-size="20.3" fill="#000"><path transform="translate(-50.80,0) scale(0.00991,-0.00991)" d="M763,0L583,0L583,1099C540,1060 483,1020 413,981C343,942 280,912 223,891L223,1058C325,1103 413,1158 488,1222C563,1286 616,1348 647,1411L763,1411Z"/><text x="-39.51">4:00</text></g>
<g transform="translate(622.70,982.00) rotate(-45) scale(1,1.035)" font-size="20.3" fill="#000"><path transform="translate(-50.80,0) scale(0.00991,-0.00991)" d="M763,0L583,0L583,1099C540,1060 483,1020 413,981C343,942 280,912 223,891L223,1058C325,1103 413,1158 488,1222C563,1286 616,1348 647,1411L763,1411Z"/><text x="-39.51">6:00</text></g>
<g transform="translate(670.76,982.00) rotate(-45) scale(1,1.035)" font-size="20.3" fill="#000"><path transform="translate(-50.80,0) scale(0.00991,-0.00991)" d="M763,0L583,0L583,1099C540,1060 483,1020 413,981C343,942 280,912 223,891L223,1058C325,1103 413,1158 488,1222C563,1286 616,1348 647,1411L763,1411Z"/><text x="-39.51">8:00</text></g>
<rect x="283.3" y="137.8" width="190.0" height="28.1" fill="#fff"/>
<g transform="translate(284.30,160.60) scale(1,1.035)" font-size="24.7" fill="#0000ff"><path transform="translate(0.00,0) scale(0.01206,-0.01206)" d="M763,0L583,0L583,1099C540,1060 483,1020 413,981C343,942 280,912 223,891L223,1058C325,1103 413,1158 488,1222C563,1286 616,1348 647,1411L763,1411Z"/><text x="13.74">:59, 48.35 pg/ml</text></g>
<rect x="150.8" y="292.0" width="62.3" height="30.6" fill="#fff"/>
<g transform="translate(151.20,316.40) scale(1,1.035)" font-size="24.7" fill="#0000ff"><text x="0.00">20:45</text></g>
<rect x="312.6" y="74.2" width="190.0" height="28.1" fill="#fff"/>
<g transform="translate(313.60,97.00) scale(1,1.035)" font-size="24.7" fill="#ff0000"><text x="0.00">2:</text><path transform="translate(20.60,0) scale(0.01206,-0.01206)" d="M763,0L583,0L583,1099C540,1060 483,1020 413,981C343,942 280,912 223,891L223,1058C325,1103 413,1158 488,1222C563,1286 616,1348 647,1411L763,1411Z"/><text x="34.34">8, 75.</text><path transform="translate(96.13,0) scale(0.01206,-0.01206)" d="M763,0L583,0L583,1099C540,1060 483,1020 413,981C343,942 280,912 223,891L223,1058C325,1103 413,1158 488,1222C563,1286 616,1348 647,1411L763,1411Z"/><text x="109.87">2 pg/ml</text></g>
<rect x="92.0" y="246.4" width="67.5" height="34.5" fill="#fff"/>
<g transform="translate(95.00,272.20) scale(1,1.035)" font-size="24.7" fill="#ff0000"><text x="0.00">20:40</text></g>
<circle cx="146.12" cy="289.76" r="6.9" fill="#fff" stroke="#0000ff" stroke-width="3.3"/>
<circle cx="144.13" cy="289.76" r="6.9" fill="#fff" stroke="#ff0000" stroke-width="3.3"/>
<g transform="translate(552.20,279.50) scale(1,1.035)" font-size="24.5" fill="#000"><path transform="translate(0.00,0) scale(0.01196,-0.01196)" d="M763,0L583,0L583,1099C540,1060 483,1020 413,981C343,942 280,912 223,891L223,1058C325,1103 413,1158 488,1222C563,1286 616,1348 647,1411L763,1411Z"/><text x="13.63">0 pg/ml</text></g>
<g transform="translate(107.80,54.80) scale(1,1.035)" font-size="30" fill="#000" font-weight="bold"><text x="0.00">S</text></g>
<rect x="128.25" y="57.60" width="15.97" height="2.5" fill="#000"/>
<g transform="translate(144.49,54.80) scale(1,1.035)" font-size="30" fill="#000" font-weight="bold"><text x="0.00">0</text><path transform="translate(16.68,0) scale(0.01465,-0.01465)" d="M785,0L510,0L510,1000C409,906 290,837 152,792L152,1032C225,1056 303,1100 388,1165C473,1230 532,1312 562,1411L785,1411Z"/></g>
<rect x="405.1" y="17.0" width="276.5" height="58.8" fill="#000"/>
<rect x="403.1" y="15.0" width="276.5" height="58.8" fill="#fff" stroke="#222" stroke-width="1"/>
<path d="M405.7,31.4 H417.7 M439.5,31.4 H451.7" stroke="#0000ff" stroke-width="4.6" stroke-linecap="round"/>
<rect x="421.95" y="24.75" width="13.30" height="13.30" fill="#0000ff"/>
<g transform="translate(456.70,37.80)" font-size="23.1" fill="#0000ff"><text x="0.00">Baseline examination</text></g>
<path d="M405.7,60.0 H417.7 M439.5,60.0 H451.7" stroke="#ff0000" stroke-width="4.6" stroke-linecap="round"/>
<rect x="421.95" y="53.35" width="13.30" height="13.30" fill="#ff0000"/>
<g transform="translate(456.70,66.40)" font-size="23.1" fill="#ff0000"><text x="0.00">Terminal examination</text></g>
<rect x="281.0" y="431.8" width="190.0" height="28.1" fill="#fff"/>
<g transform="translate(282.00,454.60) scale(1,1.035)" font-size="24.7" fill="#0000ff"><path transform="translate(0.00,0) scale(0.01206,-0.01206)" d="M763,0L583,0L583,1099C540,1060 483,1020 413,981C343,942 280,912 223,891L223,1058C325,1103 413,1158 488,1222C563,1286 616,1348 647,1411L763,1411Z"/><text x="13.74">:56, 48.47 pg/ml</text></g>
<rect x="165.7" y="598.5" width="63.6" height="30.5" fill="#fff"/>
<g transform="translate(166.20,625.60) scale(1,1.035)" font-size="24.7" fill="#0000ff"><text x="0.00">2</text><path transform="translate(13.74,0) scale(0.01206,-0.01206)" d="M763,0L583,0L583,1099C540,1060 483,1020 413,981C343,942 280,912 223,891L223,1058C325,1103 413,1158 488,1222C563,1286 616,1348 647,1411L763,1411Z"/><text x="27.47">:2</text><path transform="translate(48.07,0) scale(0.01206,-0.01206)" d="M763,0L583,0L583,1099C540,1060 483,1020 413,981C343,942 280,912 223,891L223,1058C325,1103 413,1158 488,1222C563,1286 616,1348 647,1411L763,1411Z"/></g>
<rect x="298.4" y="392.4" width="190.0" height="28.1" fill="#fff"/>
<g transform="translate(299.40,415.20) scale(1,1.035)" font-size="24.7" fill="#ff0000"><path transform="translate(0.00,0) scale(0.01206,-0.01206)" d="M763,0L583,0L583,1099C540,1060 483,1020 413,981C343,942 280,912 223,891L223,1058C325,1103 413,1158 488,1222C563,1286 616,1348 647,1411L763,1411Z"/><text x="13.74">:46, 72.</text><path transform="translate(96.13,0) scale(0.01206,-0.01206)" d="M763,0L583,0L583,1099C540,1060 483,1020 413,981C343,942 280,912 223,891L223,1058C325,1103 413,1158 488,1222C563,1286 616,1348 647,1411L763,1411Z"/><path transform="translate(109.87,0) scale(0.01206,-0.01206)" d="M763,0L583,0L583,1099C540,1060 483,1020 413,981C343,942 280,912 223,891L223,1058C325,1103 413,1158 488,1222C563,1286 616,1348 647,1411L763,1411Z"/><text x="123.61"> pg/ml</text></g>
<rect x="91.1" y="552.6" width="68.9" height="34.1" fill="#fff"/>
<g transform="translate(93.20,578.20) scale(1,1.035)" font-size="24.7" fill="#ff0000"><text x="0.00">20:57</text></g>
<circle cx="160.54" cy="596.16" r="6.9" fill="#fff" stroke="#0000ff" stroke-width="3.3"/>
<circle cx="150.93" cy="596.16" r="6.9" fill="#fff" stroke="#ff0000" stroke-width="3.3"/>
<g transform="translate(557.40,586.60) scale(1,1.035)" font-size="24.5" fill="#000"><path transform="translate(0.00,0) scale(0.01196,-0.01196)" d="M763,0L583,0L583,1099C540,1060 483,1020 413,981C343,942 280,912 223,891L223,1058C325,1103 413,1158 488,1222C563,1286 616,1348 647,1411L763,1411Z"/><text x="13.63">0 pg/ml</text></g>
<g transform="translate(107.20,360.80) scale(1,1.035)" font-size="30" fill="#000" font-weight="bold"><text x="0.00">S</text></g>
<rect x="127.65" y="363.60" width="15.97" height="2.5" fill="#000"/>
<g transform="translate(143.89,360.80) scale(1,1.035)" font-size="30" fill="#000" font-weight="bold"><text x="0.00">02</text></g>
<rect x="403.7" y="334.7" width="277.1" height="59.0" fill="#000"/>
<rect x="401.7" y="332.7" width="277.1" height="59.0" fill="#fff" stroke="#222" stroke-width="1"/>
<path d="M404.3,347.8 H416.3 M438.1,347.8 H450.3" stroke="#0000ff" stroke-width="4.6" stroke-linecap="round"/>
<circle cx="427.20" cy="348.50" r="7.00" fill="#0000ff"/>
<g transform="translate(455.30,354.20)" font-size="23.1" fill="#0000ff"><text x="0.00">Baseline examination</text></g>
<path d="M404.3,376.9 H416.3 M438.1,376.9 H450.3" stroke="#ff0000" stroke-width="4.6" stroke-linecap="round"/>
<circle cx="427.20" cy="377.60" r="7.00" fill="#ff0000"/>
<g transform="translate(455.30,383.30)" font-size="23.1" fill="#ff0000"><text x="0.00">Terminal examination</text></g>
<rect x="281.0" y="792.3" width="190.0" height="28.1" fill="#fff"/>
<g transform="translate(282.00,815.10) scale(1,1.035)" font-size="24.7" fill="#0000ff"><text x="0.00">2:</text><path transform="translate(20.60,0) scale(0.01206,-0.01206)" d="M763,0L583,0L583,1099C540,1060 483,1020 413,981C343,942 280,912 223,891L223,1058C325,1103 413,1158 488,1222C563,1286 616,1348 647,1411L763,1411Z"/><text x="34.34">3, 36.</text><path transform="translate(96.13,0) scale(0.01206,-0.01206)" d="M763,0L583,0L583,1099C540,1060 483,1020 413,981C343,942 280,912 223,891L223,1058C325,1103 413,1158 488,1222C563,1286 616,1348 647,1411L763,1411Z"/><text x="109.87">0 pg/ml</text></g>
<rect x="193.0" y="906.5" width="65.0" height="29.0" fill="#fff"/>
<g transform="translate(194.60,929.60) scale(1,1.035)" font-size="24.7" fill="#0000ff"><text x="0.00">22:24</text></g>
<rect x="284.9" y="699.2" width="190.0" height="28.1" fill="#fff"/>
<g transform="translate(285.90,722.00) scale(1,1.035)" font-size="24.7" fill="#ff0000"><text x="0.00">2:</text><path transform="translate(20.60,0) scale(0.01206,-0.01206)" d="M763,0L583,0L583,1099C540,1060 483,1020 413,981C343,942 280,912 223,891L223,1058C325,1103 413,1158 488,1222C563,1286 616,1348 647,1411L763,1411Z"/><text x="34.34">6, 66.34 pg/ml</text></g>
<rect x="86.0" y="864.5" width="69.0" height="34.3" fill="#fff"/>
<g transform="translate(87.80,890.20) scale(1,1.035)" font-size="24.7" fill="#ff0000"><text x="0.00">2</text><path transform="translate(13.74,0) scale(0.01206,-0.01206)" d="M763,0L583,0L583,1099C540,1060 483,1020 413,981C343,942 280,912 223,891L223,1058C325,1103 413,1158 488,1222C563,1286 616,1348 647,1411L763,1411Z"/><text x="27.47">:22</text></g>
<circle cx="185.77" cy="902.56" r="6.9" fill="#fff" stroke="#0000ff" stroke-width="3.3"/>
<circle cx="160.95" cy="902.56" r="6.9" fill="#fff" stroke="#ff0000" stroke-width="3.3"/>
<g transform="translate(557.40,891.60) scale(1,1.035)" font-size="24.5" fill="#000"><path transform="translate(0.00,0) scale(0.01196,-0.01196)" d="M763,0L583,0L583,1099C540,1060 483,1020 413,981C343,942 280,912 223,891L223,1058C325,1103 413,1158 488,1222C563,1286 616,1348 647,1411L763,1411Z"/><text x="13.63">0 pg/ml</text></g>
<g transform="translate(108.20,668.80) scale(1,1.035)" font-size="30" fill="#000" font-weight="bold"><text x="0.00">S</text></g>
<rect x="128.65" y="671.60" width="15.97" height="2.5" fill="#000"/>
<g transform="translate(144.89,668.80) scale(1,1.035)" font-size="30" fill="#000" font-weight="bold"><text x="0.00">03</text></g>
<rect x="403.8" y="639.6" width="277.0" height="58.9" fill="#000"/>
<rect x="401.8" y="637.6" width="277.0" height="58.9" fill="#fff" stroke="#222" stroke-width="1"/>
<path d="M404.4,653.6 H416.4 M438.2,653.6 H450.4" stroke="#0000ff" stroke-width="4.6" stroke-linecap="round"/>
<path d="M426.90,643.98 L436.10,659.91 L417.70,659.91 Z" fill="#0000ff"/>
<g transform="translate(455.40,660.00)" font-size="23.1" fill="#0000ff"><text x="0.00">Baseline examination</text></g>
<path d="M404.4,682.2 H416.4 M438.2,682.2 H450.4" stroke="#ff0000" stroke-width="4.6" stroke-linecap="round"/>
<path d="M426.90,672.58 L436.10,688.51 L417.70,688.51 Z" fill="#ff0000"/>
<g transform="translate(455.40,688.60)" font-size="23.1" fill="#ff0000"><text x="0.00">Terminal examination</text></g>
<path d="M104.0,14.0 H681.9" stroke="#000" stroke-width="2.8"/>
<g transform="translate(28.30,670.00) rotate(-90)" font-size="34.3" fill="#000"><text x="0.00">Plasma melatonin (pg/ml)</text></g>
<g transform="translate(353.50,1060.70)" font-size="34.5" fill="#000"><text x="0.00">Time</text></g>
</svg></body></html>
